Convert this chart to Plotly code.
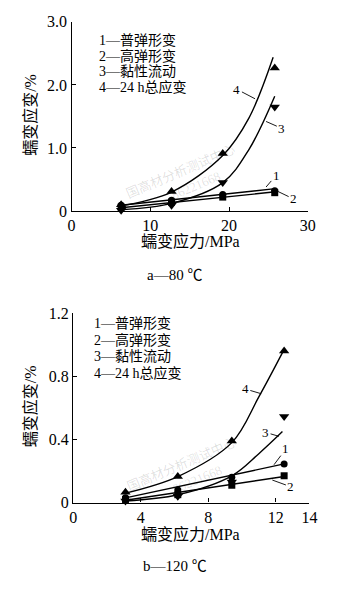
import plotly.graph_objects as go

W, H = 338, 589

# ---- panel a: 80 °C ----
a_stress = [6.3, 12.7, 19.2, 25.8]
a_elastic = [0.09, 0.17, 0.26, 0.32]      # 1 普弹形变
a_highel = [0.06, 0.14, 0.22, 0.29]       # 2 高弹形变
a_viscous = [0.01, 0.09, 0.45, 1.65]      # 3 黏性流动
a_total = [0.10, 0.31, 0.91, 2.27]        # 4 24 h总应变

a_fit12_x = [6.3, 25.6]
a_fit1_y = [0.09, 0.35]
a_fit2_y = [0.05, 0.30]
a_fit3_x = [6.3, 12.7, 19.2, 22.5, 25.8]
a_fit3_y = [0.02, 0.12, 0.45, 0.97, 1.82]
a_fit4_x = [6.3, 12.7, 19.2, 22.5, 25.6]
a_fit4_y = [0.08, 0.30, 0.88, 1.47, 2.44]

# ---- panel b: 120 °C ----
b_stress = [3.1, 6.2, 9.4, 12.5]
b_elastic = [0.03, 0.08, 0.16, 0.245]
b_highel = [0.02, 0.05, 0.11, 0.17]
b_viscous = [0.01, 0.04, 0.13, 0.545]
b_total = [0.065, 0.165, 0.39, 0.96]

b_fit12_x = [3.1, 12.5]
b_fit1_y = [0.03, 0.245]
b_fit2_y = [0.015, 0.165]
b_fit3_x = [3.1, 6.2, 9.4, 11.0, 12.4]
b_fit3_y = [0.01, 0.05, 0.17, 0.31, 0.45]
b_fit4_x = [3.1, 6.2, 9.4, 11.0, 12.4]
b_fit4_y = [0.06, 0.165, 0.38, 0.67, 0.95]

legend_lines = ["1—普弹形变", "2—高弹形变", "3—黏性流动", "4—24 h总应变"]

FONT = "Liberation Serif, Noto Sans CJK SC"
INK = "#000000"

fig = go.Figure()


def px_x(p):
    return p / W


def px_y(p):
    return 1 - p / H


def add_panel(xa, ya, stress, series, fits):
    for fx, fy, spline in fits:
        fig.add_trace(go.Scatter(
            x=fx, y=fy, mode="lines", xaxis=xa, yaxis=ya,
            line=dict(color=INK, width=1.4,
                      shape="spline" if spline else "linear", smoothing=1.0),
            showlegend=False, hoverinfo="skip"))
    symbols = ["circle", "square", "triangle-down", "triangle-up"]
    sizes = [7, 7, 9, 9]
    for vals, sym, sz in zip(series, symbols, sizes):
        fig.add_trace(go.Scatter(
            x=stress, y=vals, mode="markers", xaxis=xa, yaxis=ya,
            marker=dict(symbol=sym, size=sz, color=INK),
            cliponaxis=False, showlegend=False))


add_panel("x", "y", a_stress, [a_elastic, a_highel, a_viscous, a_total],
          [(a_fit12_x, a_fit1_y, False), (a_fit12_x, a_fit2_y, False),
           (a_fit3_x, a_fit3_y, True), (a_fit4_x, a_fit4_y, True)])
add_panel("x2", "y2", b_stress, [b_elastic, b_highel, b_viscous, b_total],
          [(b_fit12_x, b_fit1_y, False), (b_fit12_x, b_fit2_y, False),
           (b_fit3_x, b_fit3_y, True), (b_fit4_x, b_fit4_y, True)])

axis_style = dict(showline=True, linecolor=INK, linewidth=1.4, ticks="inside",
                  ticklen=4, tickcolor=INK, tickwidth=1.2, showgrid=False,
                  zeroline=False, tickfont=dict(family=FONT, size=16, color=INK),
                  fixedrange=True)

fig.update_layout(
    width=W, height=H, margin=dict(l=0, r=0, t=0, b=0),
    paper_bgcolor="white", plot_bgcolor="white",
    xaxis=dict(domain=[px_x(70), px_x(315)], anchor="y", range=[0, 30],
               tickvals=[0, 10, 20, 30], **axis_style),
    yaxis=dict(domain=[px_y(209), px_y(14.3)], anchor="x", range=[0, 3.0],
               tickvals=[0, 1, 2, 3], ticktext=["0", "1.0", "2.0", "3.0"],
               **axis_style),
    xaxis2=dict(domain=[px_x(71.7), px_x(316.7)], anchor="y2", range=[0, 14],
                tickvals=[0, 4, 8, 12, 14], **axis_style),
    yaxis2=dict(domain=[px_y(509.3), px_y(314.3)], anchor="x2", range=[0, 1.2],
                tickvals=[0, 0.4, 0.8, 1.2], ticktext=["0", "0.4", "0.8", "1.2"],
                **axis_style),
)

ann = []


def text(xp, yp, s, size=15, angle=0, color=INK, xanchor="center"):
    ann.append(dict(x=px_x(xp), y=px_y(yp), xref="paper", yref="paper",
                    text=s, showarrow=False, textangle=angle, xanchor=xanchor,
                    yanchor="middle",
                    font=dict(family=FONT, size=size, color=color)))


# faint watermark
for cx, cy in [(183, 168), (184, 470)]:
    text(cx, cy, "国高材分析测试中心", size=13, angle=-23, color="rgba(0,0,0,0.13)")
    text(cx + 16, cy + 15, "86221668", size=13, angle=-23, color="rgba(0,0,0,0.13)")

# legend blocks
for i, s in enumerate(legend_lines):
    text(96, 33 + 16 * i, s, size=14, xanchor="left")
    text(91, 325 + 17 * i, s, size=14, xanchor="left")

# axis titles and captions
text(193, 240, "蠕变应力/MPa", size=16)
text(27, 110, "蠕变应变/%", size=16, angle=-90)
text(177, 275, "a—80 ℃", size=15)
text(193, 542, "蠕变应力/MPa", size=16)
text(27, 410, "蠕变应变/%", size=16, angle=-90)
text(177, 575, "b—120 ℃", size=15)


def tag(xa, ya, label, lx, ly, hx, hy):
    ann.append(dict(x=hx, y=hy, ax=lx, ay=ly, xref=xa, yref=ya,
                    axref=xa, ayref=ya, text=label, showarrow=True,
                    arrowhead=0, arrowwidth=0.9, arrowcolor=INK, standoff=0,
                    font=dict(family=FONT, size=13, color=INK)))


tag("x", "y", "4", 21.0, 1.93, 23.3, 1.78)
tag("x", "y", "3", 26.7, 1.31, 24.7, 1.42)
tag("x", "y", "1", 26.0, 0.57, 24.7, 0.38)
tag("x", "y", "2", 28.2, 0.19, 26.2, 0.31)
tag("x2", "y2", "4", 10.2, 0.72, 11.14, 0.69)
tag("x2", "y2", "3", 11.4, 0.445, 12.19, 0.42)
tag("x2", "y2", "1", 12.6, 0.34, 11.9, 0.24)
tag("x2", "y2", "2", 12.9, 0.10, 11.8, 0.143)

fig.update_layout(annotations=ann)
fig.write_html("out.html")
